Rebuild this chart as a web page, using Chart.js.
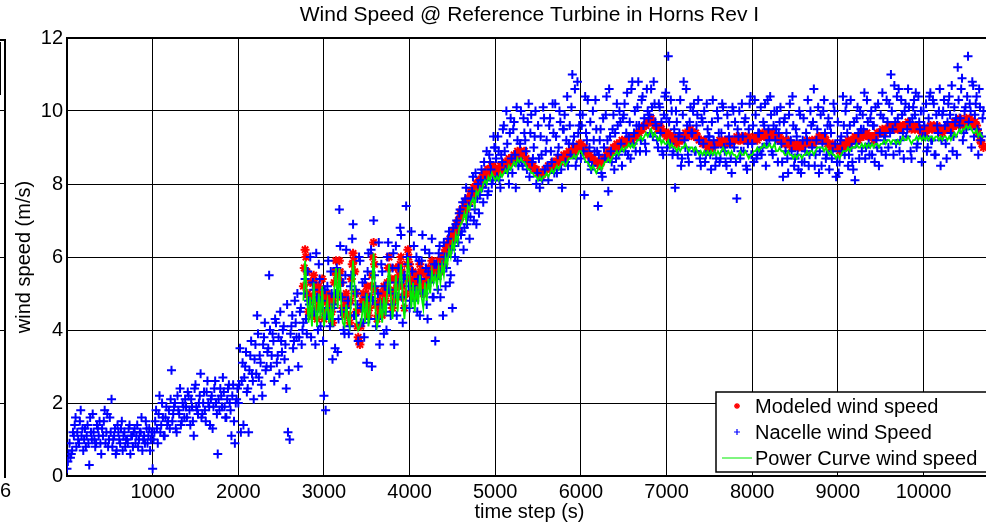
<!DOCTYPE html>
<html>
<head>
<meta charset="utf-8">
<script src="https://cdn.jsdelivr.net/npm/chart.js@4.4.1/dist/chart.umd.min.js"></script>
<style>
html, body { margin: 0; padding: 0; background: #fff; overflow: hidden; }
#wrap { position: relative; width: 986px; height: 524px; overflow: hidden; background: #fff; }
#windChart { position: absolute; left: 0; top: 0; }
.frag { position: absolute; background: #000; }
#lbl16 { position: absolute; left: -11px; top: 479px; font: 20px "Liberation Sans", Arial, sans-serif; color: #000; }
</style>
</head>
<body>
<div id="wrap">
  <canvas id="windChart" width="1000" height="524"></canvas>
  <!-- bit of the neighbouring figure, cut off at the left edge -->
  <div class="frag" style="left:4px;top:39px;width:2px;height:439px"></div>
  <div class="frag" style="left:0;top:39px;width:5px;height:2px"></div>
  <div class="frag" style="left:0;top:42px;width:1px;height:53px"></div>
  <div class="frag" style="left:0;top:110px;width:5px;height:1px"></div>
  <div class="frag" style="left:0;top:183px;width:5px;height:1px"></div>
  <div class="frag" style="left:0;top:257px;width:5px;height:1px"></div>
  <div class="frag" style="left:0;top:330px;width:5px;height:1px"></div>
  <div class="frag" style="left:0;top:403px;width:5px;height:1px"></div>
  <div id="lbl16">16</div>
</div>
<script>
// time axis of the samples (s)
var nacelleStart = 0;      // first sample of nacelleSpeed
var nacelleStartB = 10;    // first sample of nacelleSpeedB (in between)
var modelStart = 2760;
var modelStartB = 2770;
var sampleStep = 20;

// Nacelle wind Speed (m/s), t = 0, 20, 40 ...
var nacelleSpeed = [
  0.2, 0.6, 0.5, 0.7, 1.1, 1.6, 1.2, 0.9, 1.8, 1.3,
  1.0, 0.8, 1.4, 0.3, 1.2, 1.7, 1.0, 0.9, 1.3, 1.5,
  0.6, 1.1, 1.8, 1.2, 0.8, 1.6, 2.1, 1.0, 1.3, 0.7,
  1.2, 0.9, 1.5, 1.1, 0.8, 1.0, 1.3, 0.6, 1.1, 1.2,
  0.9, 1.4, 1.0, 1.2, 0.7, 1.1, 1.5, 0.9, 1.3, 1.0,
  0.2, 1.2, 1.8, 0.9, 2.2, 1.4, 1.6, 1.1, 1.9, 1.5,
  1.3, 2.9, 1.7, 2.0, 1.2, 1.8, 2.4, 1.5, 1.9, 2.1,
  1.6, 2.2, 1.4, 1.9, 1.1, 2.5, 1.8, 2.0, 2.8, 1.7,
  2.3, 1.5, 2.6, 1.9, 2.1, 1.3, 2.4, 2.0, 0.6, 1.8,
  2.2, 2.7, 1.9, 1.6, 2.4, 2.0, 1.1, 2.5, 0.9, 2.1,
  2.0, 3.5, 2.6, 1.4, 3.0, 2.3, 1.2, 3.3, 2.8, 2.1,
  3.6, 4.4, 2.7, 3.1, 2.2, 3.8, 2.9, 3.4, 5.5, 3.0,
  3.9, 2.6, 4.2, 3.3, 2.8, 3.7, 4.0, 3.2, 2.4, 1.2,
  1.0, 4.1, 3.5, 4.8, 3.8, 3.0, 4.5, 3.6,
  4.2, 5.4, 3.9, 4.8, 6.0, 4.4, 5.1, 3.6, 4.9, 5.8,
  4.1, 4.6, 2.2, 1.8, 5.2, 4.3, 5.6, 3.2, 4.7, 5.0,
  3.4, 7.3, 4.5, 5.3, 3.9, 6.2, 4.8, 4.1, 5.5, 6.9,
  4.4, 5.0, 3.7, 5.9, 4.6, 4.2, 5.4, 3.1, 6.1, 4.9,
  3.0, 7.0, 5.2, 4.3, 6.4, 4.7, 5.6, 3.9, 4.5, 6.0,
  5.1, 4.4, 5.7, 3.6, 6.3, 4.9, 5.3, 6.6, 4.2, 5.5,
  7.4, 5.8, 4.6, 6.7, 5.2, 4.8, 6.0, 5.4, 4.4, 5.9,
  5.0, 6.2, 4.7, 5.6, 5.3, 6.5, 4.9, 3.7,
  5.4, 6.1, 4.9, 5.8, 6.4, 5.2, 6.0, 6.7, 5.5, 4.6,
  6.3, 6.9, 5.9, 7.2, 6.6, 7.5, 6.8, 7.9, 7.1, 6.5,
  7.6, 8.2, 7.3, 6.9, 8.0, 7.7, 8.4, 7.5, 8.1, 8.9, 7.8, 8.6, 8.0, 9.3,
  9.0, 8.2, 8.9, 7.9, 8.6,   9.6, 8.4, 9.1, 8.0, 9.8,
  8.3, 9.7, 7.9, 9.2, 8.6,   10.0, 8.5, 9.4, 8.9, 9.7,
  8.2, 9.9, 8.7, 9.3, 8.0,   9.6, 7.9, 8.8, 10.1, 8.4,
  9.2, 8.1, 9.8, 8.6, 9.4,   10.2, 8.3, 9.0, 9.7, 7.9,
  9.5, 8.6, 10.4, 9.1, 8.8,  11.0, 9.3, 8.5, 10.8, 9.6,
  8.7, 9.9, 7.7, 9.4, 10.3,  9.0, 8.4, 10.0, 8.9, 9.5,
  7.4, 9.2, 8.3, 9.8, 8.7,   10.4, 7.8, 9.3, 8.6, 9.9,
  9.4, 10.2, 8.8, 9.7, 8.5,  9.9, 8.9, 10.5, 9.3, 8.7,
  10.8, 9.4, 8.9, 10.1, 9.6, 9.2, 10.4, 9.8, 8.9, 10.0,
  9.9, 10.6, 9.3, 10.2, 9.6, 9.0, 10.1, 9.7, 8.8, 10.4,
  9.8, 11.5, 9.1, 10.0, 8.9, 7.9, 9.7, 9.3, 10.3, 8.7,
  10.8, 9.0, 9.6, 8.6, 10.1, 9.4, 10.2, 8.9, 9.9, 9.2,
  8.5, 9.7, 10.0, 8.8, 9.5,  9.3, 8.4, 10.3, 9.0, 8.7,
  9.8, 8.6, 9.4, 10.1, 8.9,  8.5, 9.6, 9.1, 8.3, 10.0,
  9.7, 7.6, 9.3, 8.7, 10.2,  8.9, 9.8, 8.4, 9.5, 10.4,
  9.1, 8.6, 9.9, 8.8, 9.4,   10.1, 9.0, 9.6, 8.5, 10.3,
  9.2, 9.9, 8.8, 10.0, 9.5,  8.6, 9.7, 9.1, 8.2, 9.8,
  9.4, 8.3, 10.2, 8.9, 9.6,  8.7, 9.3, 8.4, 9.9, 8.6,
  9.8, 8.9, 9.2, 8.5, 10.0,  9.0, 10.6, 8.8, 9.5, 8.3,
  9.9, 9.1, 10.3, 8.7, 9.6,  8.4, 9.4, 8.9, 10.0, 8.2,
  9.7, 8.6, 9.3, 10.4, 8.8,  10.2, 8.5, 9.6, 9.0, 8.4,
  8.1, 9.8, 9.4, 10.0, 8.9,  9.5, 8.7, 10.3, 9.1, 9.8,
  8.8, 9.6, 10.1, 9.0, 8.5,  9.9, 10.5, 9.2, 8.8, 9.7,
  10.2, 11.0, 9.5, 10.7, 9.1, 9.8, 8.9, 10.3, 9.4, 10.0,
  9.3, 10.6, 9.7, 8.7, 10.1, 9.9, 9.0, 10.4, 9.5, 8.6,
  10.0, 9.3, 8.9, 9.8, 10.5, 9.2, 10.2, 8.8, 9.6, 10.0,
  8.5, 9.9, 10.3, 9.1, 9.7,  10.4, 9.4, 8.9, 10.1, 9.8,
  11.2, 9.6, 10.6, 9.2, 10.0, 9.5, 11.5, 10.2, 9.0, 10.7,
  9.9, 10.4, 8.8, 10.1, 9.3, 10.0
];

// Nacelle wind Speed (m/s), the samples in between: t = 10, 30, 50 ...
var nacelleSpeedB = [
  0.4, 0.9, 0.6, 1.2, 1.4, 0.8, 1.0, 1.5, 1.1, 0.7,
  1.3, 1.1, 0.9, 1.6, 1.0, 1.2, 0.8, 1.4, 1.1, 0.9,
  1.3, 1.5, 0.9, 1.7, 1.0, 1.2, 0.8, 1.1, 0.6, 1.4,
  1.0, 1.3, 0.7, 1.2, 1.0, 0.9, 1.4, 1.1, 0.8, 1.3,
  1.1, 0.8, 1.2, 1.6, 1.0, 0.9, 1.3, 1.1, 0.7, 1.2,
  1.0, 1.5, 1.3, 1.7, 1.2, 2.0, 1.1, 1.6, 1.4, 1.8,
  2.1, 1.5, 1.9, 1.3, 2.2, 1.7, 1.4, 2.0, 1.6, 1.9,
  2.3, 1.8, 2.1, 1.5, 2.4, 1.9, 1.7, 2.2, 1.6, 2.0,
  1.8, 2.3, 2.0, 1.4, 2.2, 1.9, 2.6, 1.7, 2.1, 2.4,
  1.9, 2.3, 1.6, 2.1, 2.5, 1.8, 2.2, 1.5, 2.0, 2.4,
  2.5, 1.2, 3.1, 2.7, 3.4, 2.4, 2.9, 3.7, 2.6, 3.2,
  2.8, 3.9, 3.3, 2.5, 3.6, 4.2, 3.0, 3.5, 4.0, 3.3,
  3.7, 4.3, 3.1, 3.8, 4.5, 3.4, 4.1, 3.6, 4.7, 2.9,
  3.9, 4.4, 3.7, 4.2, 5.0, 3.8, 4.6, 4.0,
  5.0, 4.3, 5.6, 4.7, 3.8, 5.3, 4.5, 6.1, 4.0, 5.4,
  4.8, 3.7, 5.1, 4.4, 5.9, 4.1, 5.0, 4.6, 3.5, 5.7,
  4.3, 6.3, 4.9, 4.0, 5.5, 4.6, 3.9, 5.2, 6.5, 4.4,
  5.1, 4.7, 6.0, 4.2, 5.3, 3.8, 4.9, 5.6, 4.3, 6.2,
  4.8, 5.5, 4.1, 5.0, 3.6, 5.8, 4.6, 5.2, 4.0, 6.4,
  5.3, 4.7, 6.1, 5.0, 4.4, 5.7, 6.8, 4.9, 5.4, 4.6,
  6.0, 5.2, 4.8, 5.6, 6.3, 5.1, 4.5, 5.9, 5.4, 6.6,
  5.0, 5.7, 4.3, 6.1, 5.5, 4.9, 5.8,
  5.8, 5.1, 6.3, 5.6, 4.4, 6.0, 5.7, 6.5, 5.3, 6.2,
  6.8, 6.0, 7.0, 6.4, 7.3, 6.7, 6.2, 7.6, 6.9, 7.4,
  7.1, 7.8, 7.0, 8.3, 7.6, 7.2, 8.1, 7.9, 8.6, 8.0,
  7.7, 8.8, 8.4, 8.1, 9.0,
  8.7, 9.3, 8.1, 8.8, 9.5,   8.9, 10.0, 8.3, 9.4, 8.7,
  9.5, 8.8, 10.1, 8.5, 9.1,  8.6, 9.8, 9.2, 8.4, 10.2,
  9.4, 8.6, 9.0, 10.0, 8.3,  8.7, 9.3, 8.1, 9.8, 8.9,
  8.5, 9.6, 8.9, 10.2, 8.3,  9.3, 8.8, 10.0, 8.4, 9.5,
  9.9, 9.2, 8.5, 9.6, 10.1,  9.1, 10.6, 8.7, 9.4, 9.9,
  9.6, 8.9, 10.4, 9.2, 8.6,  9.7, 8.5, 9.2, 10.3, 8.9,
  8.8, 9.5, 8.2, 9.0, 9.9,   9.2, 10.6, 8.9, 9.5, 8.4,
  8.7, 9.6, 10.0, 9.1, 9.8,  10.2, 9.4, 8.8, 9.7, 10.6,
  9.1, 10.0, 9.6, 10.8, 8.9, 10.3, 9.6, 9.1, 10.6, 9.8,
  9.4, 10.1, 10.8, 9.7, 9.2, 10.2, 9.4, 8.9, 9.9, 10.5,
  9.0, 9.7, 10.3, 8.8, 9.5,  10.0, 8.8, 9.4, 8.5, 9.9,
  9.2, 10.6, 8.8, 9.7, 9.4,  10.0, 8.9, 9.6, 10.3, 8.7,
  9.8, 9.1, 8.6, 10.2, 9.3,  8.8, 9.7, 9.2, 8.5, 10.0,
  9.4, 8.7, 10.2, 9.0, 8.6,  9.9, 9.3, 8.7, 10.1, 9.0,
  8.6, 9.5, 10.0, 8.9, 9.3,  9.7, 8.5, 9.1, 10.2, 8.8,
  9.6, 10.3, 8.7, 9.4, 8.9,  8.8, 9.7, 10.2, 9.1, 9.5,
  10.4, 8.9, 9.6, 9.2, 10.0, 9.4, 10.1, 8.6, 9.7, 8.9,
  8.7, 9.9, 9.2, 10.4, 8.5,  9.5, 8.8, 10.0, 8.3, 9.2,
  8.6, 9.4, 10.3, 8.8, 9.6,  9.7, 8.5, 9.2, 10.1, 8.9,
  8.5, 10.0, 9.4, 8.8, 9.8,  9.6, 8.7, 10.2, 9.1, 8.6,
  8.3, 9.2, 8.9, 9.6, 10.0,  9.4, 8.8, 10.3, 8.6, 9.7,
  9.1, 10.1, 8.7, 9.5, 9.9,  10.5, 9.0, 9.7, 8.8, 10.0,
  9.6, 8.6, 9.2, 10.2, 9.4,  8.9, 9.8, 9.3, 10.3, 9.0,
  9.4, 10.0, 8.8, 9.7, 10.4, 10.6, 9.2, 9.9, 8.7, 10.2,
  9.5, 10.1, 8.9, 9.8, 10.3, 10.5, 9.1, 9.7, 10.0, 9.3,
  9.6, 10.2, 9.0, 10.4, 9.2, 10.3, 8.8, 9.9, 9.4, 10.6,
  9.2, 10.0, 9.6, 8.7, 10.2, 9.9, 10.7, 9.3, 9.7, 8.8,
  10.3, 9.8, 10.9, 9.4, 10.1, 10.4, 9.7, 10.0, 10.8, 9.3,
  10.2, 9.5, 10.6, 9.2, 9.8
];

// Modeled wind speed (m/s), one value per 20 s from t = 2760
var modeledSpeed = [
  5.2, 6.2, 5.6, 4.5, 5.3, 4.4, 5.5, 5.1, 4.3, 5.2,
  4.6, 5.4, 4.3, 4.8, 5.0, 4.4, 4.9, 4.2, 5.3, 5.9,
  5.0, 5.9, 5.3, 4.6, 4.4, 5.0, 4.7, 4.2, 5.4, 6.1,
  5.6, 4.5, 3.8, 3.6, 4.6, 5.0, 4.7, 5.2, 4.4, 4.9,
  5.5, 6.4, 5.1, 4.3, 4.6, 5.0, 4.4, 5.2, 4.8, 5.3,
  6.0, 5.4, 4.6, 5.1, 5.7, 4.9, 5.5, 6.0, 5.2, 4.6,
  5.4, 6.2, 5.8, 5.0, 5.6, 4.9, 5.5, 5.1, 5.8, 5.3,
  5.0, 5.6, 5.2, 5.7, 5.4, 5.9, 5.6, 5.8,
  5.5, 5.9, 5.6, 6.0, 5.8, 6.2, 6.1, 6.4, 6.3, 6.6,
  6.5, 6.8, 6.7, 7.0, 7.1, 7.2, 7.4, 7.3, 7.6, 7.5,
  7.7, 7.8, 7.7, 8.0, 7.9, 8.1, 8.0, 8.2, 8.3, 8.2, 8.4, 8.3, 8.5, 8.4,
  8.3, 8.4, 8.3, 8.5, 8.4,  8.5, 8.6, 8.5, 8.7, 8.6,
  8.7, 8.8, 8.7, 8.9, 8.8,  8.9, 8.8, 8.9, 8.7, 8.6,
  8.6, 8.5, 8.5, 8.4, 8.4,  8.3, 8.3, 8.2, 8.3, 8.4,
  8.4, 8.5, 8.4, 8.5, 8.6,  8.5, 8.6, 8.7, 8.6, 8.7,
  8.8, 8.7, 8.8, 8.9, 8.8,  8.9, 9.0, 8.9, 9.0, 9.1,
  9.1, 9.0, 9.0, 8.9, 8.8,  8.8, 8.7, 8.7, 8.6, 8.6,
  8.6, 8.5, 8.6, 8.7, 8.7,  8.8, 8.9, 8.8, 8.9, 9.0,
  9.0, 9.1, 9.0, 9.1, 9.2,  9.1, 9.2, 9.1, 9.2, 9.3,
  9.2, 9.3, 9.3, 9.4, 9.4,  9.5, 9.5, 9.6, 9.6, 9.7,
  9.7, 9.8, 9.7, 9.6, 9.6,  9.5, 9.6, 9.5, 9.4, 9.4,
  9.3, 9.4, 9.3, 9.2, 9.3,  9.2, 9.1, 9.2, 9.3, 9.2,
  9.3, 9.4, 9.3, 9.4, 9.5,  9.4, 9.3, 9.4, 9.3, 9.2,
  9.2, 9.1, 9.2, 9.1, 9.0,  9.0, 9.1, 9.0, 9.1, 9.1,
  9.1, 9.2, 9.1, 9.1, 9.2,  9.1, 9.2, 9.1, 9.2, 9.2,
  9.2, 9.3, 9.2, 9.2, 9.3,  9.2, 9.3, 9.2, 9.3, 9.2,
  9.2, 9.2, 9.3, 9.2, 9.3,  9.3, 9.4, 9.3, 9.3, 9.4,
  9.4, 9.3, 9.4, 9.3, 9.3,  9.2, 9.3, 9.2, 9.2, 9.1,
  9.1, 9.2, 9.1, 9.0, 9.1,  9.0, 9.1, 9.0, 9.1, 9.0,
  9.1, 9.1, 9.2, 9.1, 9.1,  9.2, 9.1, 9.2, 9.2, 9.3,
  9.3, 9.2, 9.3, 9.2, 9.1,  9.1, 9.0, 9.1, 9.0, 9.0,
  9.0, 8.9, 9.0, 9.1, 9.0,  9.1, 9.2, 9.1, 9.2, 9.2,
  9.3, 9.3, 9.2, 9.3, 9.4,  9.3, 9.4, 9.4, 9.3, 9.3,
  9.3, 9.2, 9.3, 9.4, 9.4,  9.4, 9.5, 9.4, 9.5, 9.5,
  9.6, 9.5, 9.6, 9.5, 9.6,  9.5, 9.6, 9.5, 9.6, 9.6,
  9.6, 9.7, 9.6, 9.5, 9.6,  9.5, 9.6, 9.5, 9.5, 9.4,
  9.5, 9.4, 9.5, 9.5, 9.6,  9.5, 9.6, 9.5, 9.6, 9.5,
  9.5, 9.4, 9.5, 9.5, 9.6,  9.6, 9.5, 9.6, 9.7, 9.6,
  9.7, 9.8, 9.7, 9.6, 9.7,  9.8, 9.7, 9.8, 9.7, 9.6,
  9.7, 9.6, 9.4, 9.2, 9.1,  9.0
];

// Modeled wind speed (m/s), the samples in between: t = 2770 ... 4990
var modeledSpeedB = [
  5.7, 6.0, 5.0, 4.9, 4.8, 4.9, 5.3, 4.6, 4.8, 4.9,
  5.0, 4.8, 4.5, 4.9, 4.7, 4.6, 4.5, 4.8, 5.6, 5.5,
  5.5, 5.6, 4.9, 4.5, 4.7, 4.8, 4.4, 4.8, 5.8, 5.9,
  5.0, 4.1, 3.7, 4.1, 4.8, 4.8, 5.0, 4.8, 4.6, 5.2,
  6.0, 5.8, 4.7, 4.4, 4.8, 4.7, 4.8, 5.0, 5.1, 5.7,
  5.7, 5.0, 4.8, 5.4, 5.3, 5.2, 5.8, 5.6, 4.9, 5.0,
  5.8, 6.0, 5.4, 5.3, 5.2, 5.2, 5.3, 5.5, 5.6, 5.1,
  5.3, 5.4, 5.5, 5.5, 5.7, 5.7, 5.7,
  5.6, 5.8, 5.7, 5.9, 6.0, 6.1, 6.3, 6.3, 6.5, 6.5,
  6.7, 6.7, 6.9, 7.0, 7.2, 7.3, 7.3, 7.5, 7.5, 7.6,
  7.8, 7.7, 7.9, 7.9, 8.0, 8.1, 8.1, 8.2, 8.3, 8.3, 8.4, 8.4, 8.4, 8.5, 8.4
];

// Power Curve wind speed (m/s), same time steps as the modeled series
var powerCurveSpeed = [
  4.8, 5.9, 5.0, 4.2, 4.9, 4.1, 5.3, 4.6, 4.1, 5.0,
  4.3, 5.2, 4.1, 4.5, 4.8, 4.2, 4.6, 4.1, 5.1, 5.7,
  4.6, 5.7, 4.8, 4.2, 4.1, 4.7, 4.3, 4.1, 5.0, 5.9,
  5.1, 4.2, 4.0, 4.1, 4.3, 4.8, 4.2, 5.0, 4.1, 4.6,
  5.2, 6.1, 4.6, 4.1, 4.3, 4.7, 4.2, 4.9, 4.4, 5.1,
  5.8, 5.0, 4.3, 4.8, 5.5, 4.5, 5.2, 5.8, 4.8, 4.3,
  5.0, 6.0, 5.4, 4.6, 5.3, 4.5, 5.2, 4.7, 5.5, 4.9,
  4.6, 5.3, 4.8, 5.4, 5.0, 5.6, 5.3, 5.5,
  5.2, 5.7, 5.3, 5.8, 5.5, 6.0, 5.8, 6.2, 6.0, 6.4,
  6.2, 6.6, 6.4, 6.8, 6.9, 7.0, 7.2, 7.0, 7.4, 7.3,
  7.5, 7.6, 7.4, 7.8, 7.7, 7.9, 7.8, 8.0, 8.1, 8.0, 8.2, 8.1, 8.3, 8.2,
  8.1, 8.2, 8.1, 8.3, 8.2,  8.3, 8.4, 8.3, 8.5, 8.4,
  8.5, 8.6, 8.5, 8.7, 8.6,  8.7, 8.6, 8.6, 8.5, 8.4,
  8.4, 8.3, 8.3, 8.2, 8.2,  8.1, 8.2, 8.1, 8.2, 8.2,
  8.3, 8.2, 8.3, 8.4, 8.3,  8.4, 8.5, 8.4, 8.5, 8.6,
  8.6, 8.5, 8.6, 8.7, 8.7,  8.7, 8.8, 8.7, 8.8, 8.9,
  8.9, 8.8, 8.7, 8.6, 8.6,  8.5, 8.4, 8.5, 8.4, 8.3,
  8.4, 8.5, 8.4, 8.5, 8.6,  8.6, 8.7, 8.6, 8.7, 8.8,
  8.8, 8.9, 8.8, 8.9, 9.0,  8.9, 9.0, 9.0, 9.1, 9.0,
  9.1, 9.0, 9.1, 9.2, 9.2,  9.3, 9.2, 9.3, 9.4, 9.3,
  9.4, 9.5, 9.3, 9.4, 9.3,  9.2, 9.3, 9.1, 9.2, 9.1,
  9.1, 9.2, 9.0, 9.1, 9.0,  9.0, 8.9, 9.0, 8.9, 9.0,
  9.0, 9.1, 9.0, 8.9, 9.0,  9.0, 8.9, 9.0, 8.9, 8.8,
  8.9, 8.8, 8.9, 8.8, 8.9,  8.8, 8.9, 8.8, 8.9, 8.8,
  8.9, 8.8, 8.9, 9.0, 8.9,  8.8, 8.9, 8.8, 8.9, 8.8,
  8.8, 8.7, 8.8, 8.9, 8.8,  8.8, 8.9, 8.8, 8.7, 8.8,
  8.8, 8.9, 8.9, 9.0, 8.9,  9.0, 9.0, 9.1, 9.0, 9.0,
  9.1, 9.0, 9.0, 9.1, 8.9,  8.9, 9.0, 8.9, 8.9, 8.8,
  8.8, 8.9, 8.8, 8.8, 8.7,  8.8, 8.7, 8.8, 8.8, 8.7,
  8.8, 8.8, 8.9, 8.8, 8.9,  8.9, 8.8, 8.9, 9.0, 9.0,
  9.0, 9.0, 8.9, 9.0, 8.9,  8.8, 8.9, 8.8, 8.8, 8.7,
  8.8, 8.7, 8.8, 8.9, 8.9,  8.9, 9.0, 8.9, 9.0, 9.0,
  9.0, 9.1, 9.0, 9.0, 9.1,  9.0, 9.1, 9.0, 9.1, 9.0,
  9.1, 9.0, 9.1, 9.1, 9.0,  9.1, 9.1, 9.2, 9.1, 9.2,
  9.2, 9.1, 9.2, 9.2, 9.1,  9.2, 9.1, 9.2, 9.3, 9.2,
  9.2, 9.3, 9.2, 9.1, 9.2,  9.2, 9.3, 9.2, 9.3, 9.2,
  9.3, 9.2, 9.3, 9.2, 9.3,  9.3, 9.2, 9.3, 9.3, 9.2,
  9.3, 9.2, 9.3, 9.3, 9.2,  9.3, 9.2, 9.3, 9.4, 9.3,
  9.4, 9.5, 9.4, 9.5, 9.5,  9.6, 9.5, 9.6, 9.5, 9.4,
  9.4, 9.5, 9.3, 9.4, 9.3,  9.3
];

var xTicks = [1000, 2000, 3000, 4000, 5000, 6000, 7000, 8000, 9000, 10000];
var yTicks = [0, 2, 4, 6, 8, 10, 12];
var chartTitle = 'Wind Speed @ Reference Turbine in Horns Rev I';

function toPoints(values, t0) {
  var pts = [];
  for (var i = 0; i < values.length; i++) {
    pts.push({ x: t0 + i * sampleStep, y: values[i] });
  }
  return pts;
}

var FONT = '"Liberation Sans", Arial, Helvetica, sans-serif';
Chart.defaults.font.family = FONT;
Chart.defaults.color = '#000';

var RED = 'rgb(255, 0, 0)';
var BLUE = 'rgb(0, 0, 255)';
var GREEN = 'rgb(0, 235, 0)';

// title over the axes plus the legend box inside, bottom right
var decorPlugin = {
  id: 'decor',
  afterDraw: function (chart) {
    var ctx = chart.ctx;
    var area = chart.chartArea;
    ctx.save();
    ctx.fillStyle = '#000';
    ctx.font = '21px ' + FONT;
    ctx.textAlign = 'center';
    ctx.textBaseline = 'middle';
    ctx.fillText(chartTitle, (area.left + area.right) / 2, 15);

    var bx = 716, by = 392, bw = 300, bh = 80;
    ctx.fillStyle = '#fff';
    ctx.fillRect(bx, by, bw, bh);
    ctx.strokeStyle = '#000';
    ctx.lineWidth = 1.5;
    ctx.strokeRect(bx, by, bw, bh);

    var rows = [406, 432, 458];
    var r = 3, mx = 737;
    // modeled: star
    ctx.strokeStyle = RED;
    ctx.lineWidth = 1.3;
    ctx.beginPath();
    ctx.moveTo(mx - r, rows[0]); ctx.lineTo(mx + r, rows[0]);
    ctx.moveTo(mx, rows[0] - r); ctx.lineTo(mx, rows[0] + r);
    ctx.moveTo(mx - r * 0.7, rows[0] - r * 0.7); ctx.lineTo(mx + r * 0.7, rows[0] + r * 0.7);
    ctx.moveTo(mx - r * 0.7, rows[0] + r * 0.7); ctx.lineTo(mx + r * 0.7, rows[0] - r * 0.7);
    ctx.stroke();
    // nacelle: plus
    ctx.strokeStyle = BLUE;
    ctx.lineWidth = 1.2;
    ctx.beginPath();
    ctx.moveTo(mx - r, rows[1]); ctx.lineTo(mx + r, rows[1]);
    ctx.moveTo(mx, rows[1] - r); ctx.lineTo(mx, rows[1] + r);
    ctx.stroke();
    // power curve: line
    ctx.strokeStyle = GREEN;
    ctx.lineWidth = 1;
    ctx.beginPath();
    ctx.moveTo(722, rows[2]); ctx.lineTo(752, rows[2]);
    ctx.stroke();

    ctx.textAlign = 'left';
    ctx.fillStyle = '#000';
    ctx.font = '20px ' + FONT;
    var labels = ['Modeled wind speed', 'Nacelle wind Speed', 'Power Curve wind speed'];
    for (var i = 0; i < 3; i++) {
      ctx.fillText(labels[i], 755, rows[i] + 1);
    }
    ctx.restore();
  }
};

var windCanvas = document.getElementById('windChart');

var modeledMarks = {
  showLine: false,
  pointStyle: 'star',
  pointRadius: 4.5,
  pointBorderWidth: 2,
  borderColor: RED,
  backgroundColor: RED
};

var nacelleMarks = {
  showLine: false,
  pointStyle: 'cross',
  pointRadius: 4.5,
  pointBorderWidth: 2,
  borderColor: BLUE,
  backgroundColor: BLUE
};

var modeledData = Object.assign({ label: 'Modeled wind speed', data: toPoints(modeledSpeed, modelStart), order: 4 }, modeledMarks);
var modeledDataB = Object.assign({ label: 'Modeled wind speed', data: toPoints(modeledSpeedB, modelStartB), order: 3 }, modeledMarks);
var nacelleData = Object.assign({ label: 'Nacelle wind Speed', data: toPoints(nacelleSpeed, nacelleStart), order: 1 }, nacelleMarks);
var nacelleDataB = Object.assign({ label: 'Nacelle wind Speed', data: toPoints(nacelleSpeedB, nacelleStartB), order: 2 }, nacelleMarks);

var powerCurveData = {
  label: 'Power Curve wind speed',
  data: toPoints(powerCurveSpeed, modelStart),
  showLine: true,
  pointRadius: 0,
  borderWidth: 1.8,
  borderColor: GREEN,
  backgroundColor: GREEN,
  tension: 0,
  order: 0
};

var windChart = new Chart(windCanvas, {
  type: 'scatter',
  data: { datasets: [modeledData, modeledDataB, nacelleData, nacelleDataB, powerCurveData] },
  options: {
    responsive: false,
    animation: false,
    events: [],
    layout: { padding: { top: 38, right: 8, left: 0, bottom: 0 } },
    plugins: {
      legend: { display: false },
      tooltip: { enabled: false },
      title: { display: false }
    },
    scales: {
      x: {
        type: 'linear',
        min: 0,
        max: 10800,
        afterBuildTicks: function (scale) {
          scale.ticks = [{ value: 0 }].concat(xTicks.map(function (v) { return { value: v }; }));
        },
        ticks: {
          autoSkip: false,
          maxRotation: 0,
          padding: 4,
          font: { size: 20 },
          color: '#000',
          callback: function (v) { return v === 0 ? '' : String(v); }
        },
        grid: { color: '#000', lineWidth: 1, drawTicks: false },
        border: { color: '#000', width: 2 },
        title: { display: true, text: 'time step (s)', font: { size: 20 }, color: '#000', padding: { top: 0, bottom: 0 } },
        afterFit: function (scale) { scale.height = 48; }
      },
      y: {
        min: 0,
        max: 12,
        afterBuildTicks: function (scale) {
          scale.ticks = yTicks.map(function (v) { return { value: v }; });
        },
        ticks: { padding: 4, font: { size: 20 }, color: '#000' },
        grid: {
          color: '#000',
          drawTicks: false,
          lineWidth: function (c) { return c.tick && c.tick.value === 12 ? 2 : 1; }
        },
        border: { color: '#000', width: 2 },
        title: { display: true, text: 'wind speed (m/s)', font: { size: 20 }, color: '#000', padding: { top: 12, bottom: 0 } },
        afterFit: function (scale) { scale.width = 67; }
      }
    }
  },
  plugins: [decorPlugin]
});
</script>
</body>
</html>
